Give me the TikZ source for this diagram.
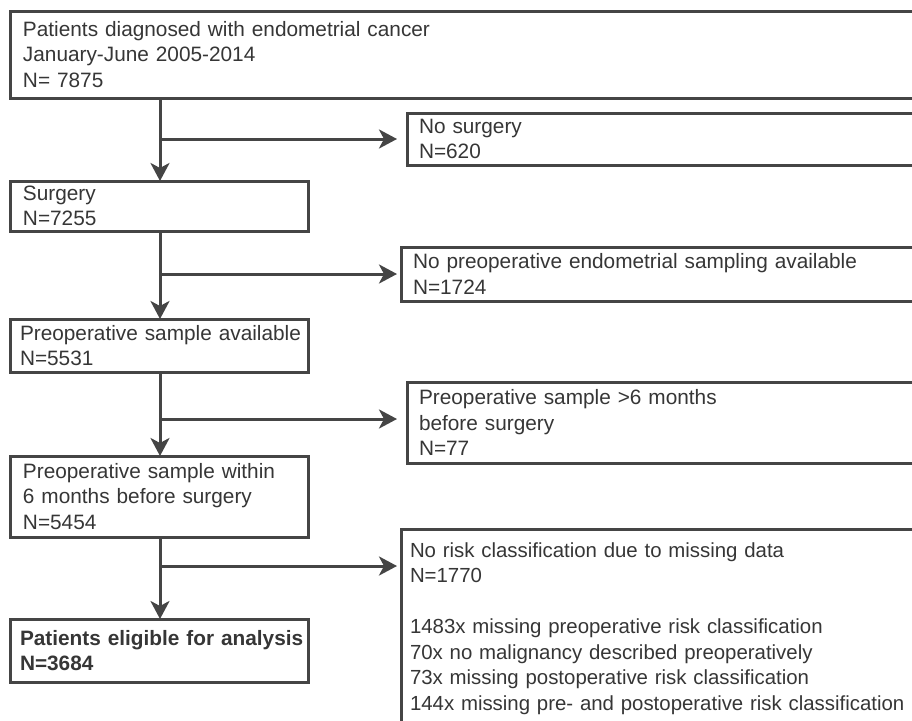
\documentclass[tikz,border=0pt]{standalone}
\usepackage{fontspec}
\setmainfont{Liberation Sans}
\usetikzlibrary{arrows.meta}
\definecolor{linecol}{HTML}{454545}
\definecolor{txtcol}{HTML}{363636}
\begin{document}
\begin{tikzpicture}[x=1pt,y=-1pt,
  box/.style={draw=linecol, line width=3pt, anchor=north west, outer sep=0pt,
    inner ysep=0pt, inner xsep=#1, align=left, text=txtcol,
    font=\fontsize{20.8}{25.5}\selectfont},
  arr/.style={draw=linecol, line width=3pt,
    -{Stealth[length=18pt,width=19pt,inset=5pt]}}]
\fill[white] (0,0) rectangle (912,720);
\useasboundingbox (0,0) rectangle (912,720);
% left column
\node[box=13pt, text width=904pt, minimum width=930pt, minimum height=87pt] (top) at (10,11)
  {Patients diagnosed with endometrial cancer\\January-June 2005-2014\\N= 7875};
\node[box=13pt, text width=272pt, minimum width=298pt, minimum height=50pt] (surg) at (10,181)
  {Surgery\\N=7255};
\node[box=10pt, text width=278pt, minimum width=298pt, minimum height=53pt] (avail) at (10,319)
  {\mbox{Preoperative sample available}\\N=5531};
\node[box=13pt, text width=272pt, minimum width=298pt, minimum height=81pt] (within) at (10,456)
  {Preoperative sample within\\6 months before surgery\\N=5454};
\node[box=10pt, text width=278pt, minimum width=298pt, minimum height=63pt, font=\fontsize{20.8}{25.5}\selectfont\bfseries] (elig) at (10,619)
  {\mbox{Patients eligible for analysis}\\N=3684};
% right column
\node[box=12pt, text width=509pt, minimum width=533pt, minimum height=52pt] (nosurg) at (407,113)
  {No surgery\\N=620};
\node[box=12pt, text width=515pt, minimum width=539pt, minimum height=54pt] (nopre) at (401,247)
  {No preoperative endometrial sampling available\\N=1724};
\node[box=12pt, text width=509pt, minimum width=533pt, minimum height=81pt] (late) at (407,382)
  {Preoperative sample >6 months\\before surgery\\N=77};
\node[box=9pt, text width=521pt, minimum width=539pt, minimum height=199pt, font=\fontsize{20.4}{25.5}\selectfont] (risk) at (401,529)
  {No risk classification due to missing data\\N=1770\\[25.5pt]1483x missing preoperative risk classification\\70x no malignancy described preoperatively\\73x missing postoperative risk classification\\\mbox{144x missing pre- and postoperative risk classification}};
% trunk
\coordinate (tr) at (160,0);
\coordinate (b1) at (160,139);
\coordinate (b2) at (160,274);
\coordinate (b3) at (160,419);
\coordinate (b4) at (160,566);
\draw[arr] (top.south -| tr) -- (surg.north -| tr);
\draw[arr] (surg.south -| tr) -- (avail.north -| tr);
\draw[arr] (avail.south -| tr) -- (within.north -| tr);
\draw[arr] (within.south -| tr) -- (elig.north -| tr);
\draw[arr, shorten >=10pt] (b1) -- (nosurg.west |- b1);
\draw[arr, shorten >=4pt] (b2) -- (nopre.west |- b2);
\draw[arr, shorten >=10pt] (b3) -- (late.west |- b3);
\draw[arr, shorten >=4pt] (b4) -- (risk.west |- b4);
\end{tikzpicture}
\end{document}
